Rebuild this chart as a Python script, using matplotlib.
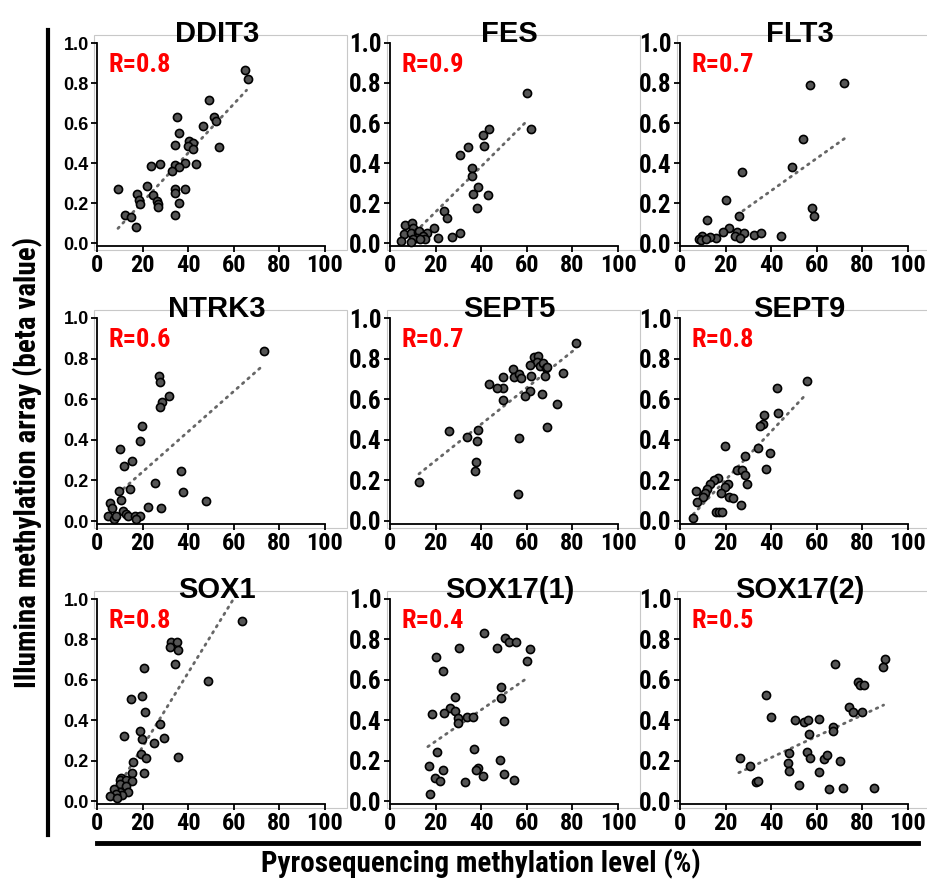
import numpy as np
import matplotlib
matplotlib.use("Agg")
import matplotlib.pyplot as plt
from matplotlib.patches import Rectangle
from matplotlib.lines import Line2D
from matplotlib import font_manager

# --- data ---
genes = ["DDIT3", "FES", "FLT3", "NTRK3", "SEPT5", "SEPT9", "SOX1", "SOX17(1)", "SOX17(2)"]
r_values = ["R=0.8", "R=0.9", "R=0.7", "R=0.6", "R=0.7", "R=0.8", "R=0.8", "R=0.4", "R=0.5"]

ddit3_x = [64.9, 66.3, 49.0, 51.4, 52.0, 46.4, 35.1, 36.0, 40.3, 42.0, 34.1, 39.8, 41.9, 53.7,
           23.7, 27.7, 38.8, 43.5, 34.3, 35.9, 32.9, 22.1, 9.2, 34.1, 38.4, 34.1, 17.6, 24.6,
           18.4, 26.1, 19.0, 26.6, 36.0, 26.9, 12.4, 14.9, 34.1, 17.1]
ddit3_y = [0.864, 0.822, 0.714, 0.631, 0.611, 0.586, 0.628, 0.551, 0.512, 0.498, 0.490, 0.485,
           0.472, 0.482, 0.387, 0.394, 0.402, 0.394, 0.389, 0.382, 0.362, 0.286, 0.272, 0.269,
           0.272, 0.249, 0.243, 0.238, 0.216, 0.211, 0.196, 0.196, 0.199, 0.179, 0.138, 0.128,
           0.138, 0.078]

fes_x = [60.3, 62.0, 43.6, 40.7, 34.4, 41.2, 30.7, 36.0, 35.9, 38.6, 36.4, 42.8, 38.3, 23.7,
         24.8, 19.5, 30.8, 27.4, 21.1, 6.6, 9.8, 10.0, 6.2, 9.2, 12.1, 12.9, 16.1, 14.3, 11.8,
         10.0, 9.0, 15.4, 5.0, 13.3]
fes_y = [0.751, 0.571, 0.571, 0.542, 0.478, 0.487, 0.442, 0.374, 0.337, 0.281, 0.246, 0.241,
         0.174, 0.158, 0.126, 0.076, 0.050, 0.030, 0.023, 0.091, 0.100, 0.075, 0.047, 0.050,
         0.053, 0.060, 0.050, 0.037, 0.025, 0.020, 0.005, 0.018, 0.008, 0.020]

flt3_x = [72.1, 56.8, 54.0, 49.3, 27.3, 20.3, 11.8, 58.0, 58.8, 25.7, 21.6, 19.0, 25.1, 28.2,
          24.2, 26.3, 32.6, 35.5, 44.1, 15.9, 13.1, 9.8, 8.3, 9.2, 11.4]
flt3_y = [0.801, 0.792, 0.518, 0.382, 0.357, 0.216, 0.116, 0.174, 0.133, 0.136, 0.076, 0.053,
          0.056, 0.048, 0.033, 0.025, 0.038, 0.048, 0.037, 0.027, 0.030, 0.037, 0.020, 0.013,
          0.020]

ntrk3_x = [73.4, 27.1, 27.5, 31.6, 28.6, 27.8, 19.6, 19.0, 10.2, 15.2, 11.7, 36.9, 25.6, 14.5,
           9.7, 37.8, 10.4, 47.6, 5.9, 6.6, 22.5, 28.0, 11.3, 12.9, 13.6, 5.0, 7.5, 8.5, 16.5,
           18.7, 17.3]
ntrk3_y = [0.839, 0.713, 0.687, 0.615, 0.585, 0.560, 0.466, 0.395, 0.354, 0.298, 0.269, 0.244,
           0.185, 0.158, 0.147, 0.145, 0.104, 0.100, 0.089, 0.066, 0.069, 0.064, 0.049, 0.036,
           0.023, 0.026, 0.012, 0.023, 0.023, 0.026, 0.012]

sept5_x = [81.4, 63.2, 64.9, 64.3, 61.6, 65.9, 67.2, 68.3, 68.8, 68.1, 75.8, 54.1, 54.4, 56.5,
           57.3, 61.9, 49.4, 49.5, 46.8, 43.5, 49.4, 61.2, 59.3, 66.8, 73.4, 68.8, 56.5, 38.8,
           25.8, 33.7, 38.1, 37.6, 37.4, 56.0, 12.9]
sept5_y = [0.875, 0.806, 0.813, 0.785, 0.767, 0.765, 0.780, 0.752, 0.760, 0.714, 0.731, 0.747,
           0.708, 0.724, 0.703, 0.714, 0.708, 0.657, 0.657, 0.675, 0.596, 0.642, 0.617, 0.627,
           0.576, 0.463, 0.411, 0.450, 0.443, 0.412, 0.394, 0.292, 0.248, 0.131, 0.190]

sept9_x = [55.8, 42.6, 43.2, 37.0, 36.2, 34.9, 34.1, 39.6, 19.9, 28.7, 37.8, 25.2, 27.1, 28.7,
           29.4, 16.8, 15.1, 13.2, 11.9, 10.9, 9.9, 7.2, 7.5, 21.2, 19.6, 17.8, 21.3, 23.3,
           26.8, 15.7, 17.1, 18.3, 5.5]
sept9_y = [0.689, 0.653, 0.532, 0.524, 0.479, 0.466, 0.359, 0.336, 0.369, 0.321, 0.256, 0.251,
           0.251, 0.228, 0.182, 0.212, 0.203, 0.182, 0.160, 0.137, 0.116, 0.149, 0.093, 0.182,
           0.169, 0.140, 0.119, 0.112, 0.079, 0.046, 0.045, 0.045, 0.013]

sox1_x = [63.7, 32.5, 35.1, 32.2, 35.6, 34.0, 20.8, 48.8, 19.8, 14.8, 21.2, 27.8, 18.9, 11.9,
          19.8, 29.3, 25.0, 19.2, 21.5, 35.7, 15.7, 15.5, 20.4, 10.7, 10.0, 12.6, 15.4, 10.0,
          12.6, 13.8, 10.2, 11.1, 7.3, 8.5, 5.9, 8.8]
sox1_y = [0.891, 0.788, 0.788, 0.760, 0.748, 0.679, 0.656, 0.594, 0.520, 0.505, 0.439, 0.381,
          0.346, 0.320, 0.308, 0.310, 0.288, 0.235, 0.214, 0.219, 0.192, 0.141, 0.139, 0.116,
          0.103, 0.103, 0.101, 0.083, 0.075, 0.045, 0.046, 0.031, 0.058, 0.036, 0.026, 0.017]

sox17a_x = [41.1, 50.6, 52.2, 55.4, 46.9, 61.3, 30.2, 60.0, 20.1, 23.4, 48.5, 48.5, 28.6, 26.3,
            28.4, 18.3, 23.9, 30.0, 33.6, 36.5, 29.7, 49.8, 36.9, 20.8, 48.1, 16.9, 23.2, 38.8,
            37.5, 19.9, 22.1, 32.8, 40.7, 50.1, 54.5, 17.6]
sox17a_y = [0.833, 0.805, 0.785, 0.785, 0.756, 0.751, 0.759, 0.693, 0.711, 0.644, 0.563, 0.510,
            0.513, 0.462, 0.446, 0.432, 0.436, 0.411, 0.417, 0.417, 0.384, 0.396, 0.257, 0.244,
            0.203, 0.173, 0.153, 0.165, 0.153, 0.112, 0.097, 0.094, 0.125, 0.132, 0.104, 0.035]

sox17b_x = [89.9, 89.2, 67.9, 78.0, 79.1, 80.7, 37.8, 40.0, 74.0, 75.9, 80.0, 50.4, 54.2, 56.1,
            61.0, 67.3, 67.2, 56.5, 26.1, 47.6, 55.6, 56.8, 63.1, 64.5, 30.8, 47.3, 47.6, 70.2,
            60.9, 33.3, 34.3, 52.1, 65.3, 71.5, 85.1]
sox17b_y = [0.701, 0.662, 0.677, 0.591, 0.574, 0.574, 0.526, 0.417, 0.467, 0.439, 0.439, 0.399,
            0.393, 0.399, 0.408, 0.365, 0.348, 0.332, 0.211, 0.236, 0.244, 0.215, 0.208, 0.226,
            0.173, 0.190, 0.149, 0.196, 0.145, 0.092, 0.097, 0.079, 0.059, 0.066, 0.063]

# dotted trend lines: (x start, y start, x end, y end)
trend_lines = [(9.2, 0.073, 65.6, 0.764), (13.6, 0.083, 60.5, 0.615), (25.0, 0.14, 72.5, 0.525),
               (9.2, 0.135, 72.6, 0.764), (12.7, 0.232, 81.7, 0.851), (5.8, 0.033, 54.3, 0.612),
               (9.2, 0.07, 61.5, 1.03), (16.6, 0.269, 60.6, 0.612), (25.8, 0.140, 89.3, 0.475)]

xs = [ddit3_x, fes_x, flt3_x, ntrk3_x, sept5_x, sept9_x, sox1_x, sox17a_x, sox17b_x]
ys = [ddit3_y, fes_y, flt3_y, ntrk3_y, sept5_y, sept9_y, sox1_y, sox17a_y, sox17b_y]

x_ticks = [0, 20, 40, 60, 80, 100]
y_ticks = [0.0, 0.2, 0.4, 0.6, 0.8, 1.0]
y_tick_labels = ["0.0", "0.2", "0.4", "0.6", "0.8", "1.0"]

# --- layout (pixels of a 927x880 image) ---
W, H = 927, 880
col_x0 = [97, 390, 680]     # pixel of x = 0
px_per_x = 2.28
row_y0 = [243, 521, 801]    # pixel of y = 0
row_y1 = [43, 318, 599]     # pixel of y = 1
xlim = (-1.3, 109.6)
ylim = (-0.035, 1.04)

# pick a condensed face when one is installed
installed = {f.name for f in font_manager.fontManager.ttflist}
condensed = [n for n in ["Liberation Sans Narrow", "Roboto Condensed", "Open Sans Condensed",
                         "Noto Sans Condensed", "DejaVu Sans Condensed"] if n in installed]
NARROW = condensed[:1] + ["Liberation Sans", "DejaVu Sans"]
ARIAL = ["Liberation Sans", "DejaVu Sans"]
shrink = 1.0 if condensed else 0.84

fig = plt.figure(figsize=(W / 100, H / 100), dpi=100)

for i, gene in enumerate(genes):
    r, c = divmod(i, 3)
    sy = row_y0[r] - row_y1[r]
    left = col_x0[c] + xlim[0] * px_per_x
    width = (xlim[1] - xlim[0]) * px_per_x
    top = row_y0[r] - ylim[1] * sy
    bottom = row_y0[r] - ylim[0] * sy
    ax = fig.add_axes([left / W, 1 - bottom / H, width / W, (bottom - top) / H])
    ax.set_xlim(*xlim)
    ax.set_ylim(*ylim)

    # light grey panel frame
    ax.add_patch(Rectangle((0, 0), 1, 1, transform=ax.transAxes, fill=False,
                           edgecolor="#c8c8c8", lw=0.8, clip_on=False, zorder=0))
    for s in ["top", "right"]:
        ax.spines[s].set_visible(False)
    ax.spines["left"].set_position(("data", 0))
    ax.spines["left"].set_bounds(-0.015, 1.0)
    ax.spines["bottom"].set_position(("data", -0.015))
    ax.spines["bottom"].set_bounds(0, 100)
    for s in ["left", "bottom"]:
        ax.spines[s].set_linewidth(1.3)

    x0, y0, x1, y1 = trend_lines[i]
    ax.plot([x0, x1], [y0, y1], linestyle=(0, (0.6, 2.0)), color="#666666", lw=2.0,
            dash_capstyle="round", zorder=2)
    ax.scatter(xs[i], ys[i], s=34, facecolor="#555555", edgecolor="black",
               linewidths=1.2, zorder=3)

    ax.set_xticks(x_ticks)
    ax.set_yticks(y_ticks)
    ax.set_yticklabels(y_tick_labels)
    ax.tick_params(direction="out", length=4, width=1.3, pad=2)
    for lab in ax.get_xticklabels():
        lab.set_fontfamily(NARROW)
        lab.set_fontweight("bold")
        lab.set_fontsize(17.5 * shrink)
    for lab in ax.get_yticklabels():
        if c == 0:
            lab.set_fontfamily(ARIAL)
            lab.set_fontsize(13)
        else:
            lab.set_fontfamily(NARROW)
            lab.set_fontsize(18 * shrink)
        lab.set_fontweight("bold")

    ax.text(52.5, 1.005, gene, ha="center", va="baseline", fontsize=21,
            fontweight="bold", family=ARIAL, zorder=4)
    ax.text(5, 0.855, r_values[i], ha="left", va="baseline", fontsize=19 * shrink,
            fontweight="bold", color="#ff0000", family=NARROW, zorder=4)

# decorative axis bars and common labels
fig.add_artist(Line2D([48 / W, 48 / W], [1 - 30 / H, 1 - 835 / H], color="black", lw=3))
fig.add_artist(Line2D([97 / W, 918 / W], [1 - 843 / H, 1 - 843 / H], color="black", lw=3.5))
fig.text(28 / W, 1 - 462 / H, "Illumina methylation array (beta value)", rotation=90,
         ha="center", va="center", fontsize=21, fontweight="bold", family=NARROW)
fig.text(481 / W, 1 - 864 / H, "Pyrosequencing methylation level (%)",
         ha="center", va="center", fontsize=21 * shrink, fontweight="bold", family=NARROW)

fig.savefig("out.png", dpi=100)
